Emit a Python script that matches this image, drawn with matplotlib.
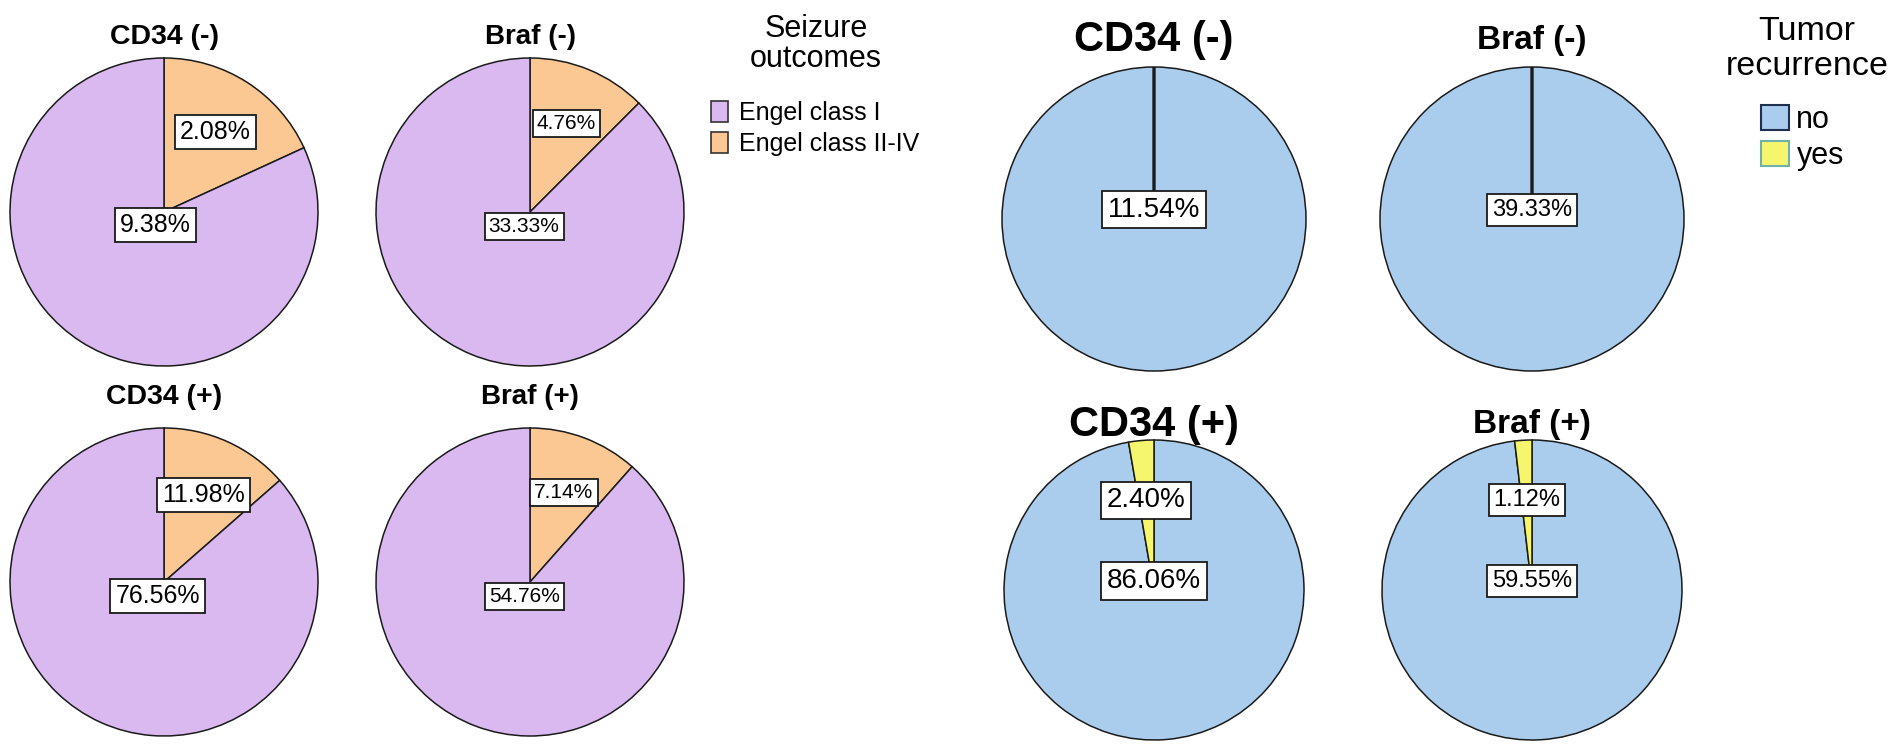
import matplotlib
matplotlib.use('Agg')
import matplotlib.pyplot as plt
from matplotlib.patches import Patch
import numpy as np

plt.rcParams['font.family'] = ['Liberation Sans', 'DejaVu Sans']

# ---------------- data ----------------
seizure_groups = ['CD34 (-)', 'Braf (-)', 'CD34 (+)', 'Braf (+)']
seizure_categories = ['Engel class I', 'Engel class II-IV']
seizure_class_I = [9.38, 33.33, 76.56, 54.76]
seizure_class_II_IV = [2.08, 4.76, 11.98, 7.14]

recurrence_groups = ['CD34 (-)', 'Braf (-)', 'CD34 (+)', 'Braf (+)']
recurrence_categories = ['no', 'yes']
recurrence_no = [11.54, 39.33, 86.06, 59.55]
recurrence_yes = [0.0, 0.0, 2.40, 1.12]

# ---------------- style ----------------
PURPLE = '#DAB9F1'
ORANGE = '#FBC893'
BLUE = '#ABCDED'
YELLOW = '#F6F56E'
EDGE = '#1a1a1a'

W, H = 1901, 750
fig = plt.figure(figsize=(W / 100, H / 100), dpi=100)
ax = fig.add_axes([0, 0, 1, 1])


def Y(y):
    return H - y


# layout: (center x, center y, radius, title size, label size, title y)
seizure_layout = [
    (164, 212, 154, 20.5, 18, 37),
    (530, 212, 154, 20, 15, 37),
    (164, 582, 154, 20.5, 18, 397),
    (530, 582, 154, 20, 15, 397),
]
recurrence_layout = [
    (1154, 219, 152, 30, 20, 40),
    (1532, 219, 152, 24, 17, 40),
    (1154, 590, 150, 30, 20, 425),
    (1532, 590, 150, 24, 17, 425),
]


def draw_pie(values, colors, layout, title, small_dist, big_mode):
    cx, cy, r, tsize, lsize, ty = layout
    total = sum(values)
    wedges, _ = ax.pie(values, colors=colors, startangle=90, counterclock=False,
                       center=(cx, Y(cy)), radius=r, normalize=True,
                       wedgeprops=dict(edgecolor=EDGE, linewidth=1.1))
    for w, v in zip(wedges, values):
        if v == 0:
            w.set_linewidth(2.4)
            continue
        frac = v / total
        mid = np.deg2rad((w.theta1 + w.theta2) / 2)
        if frac < 0.3:
            x = cx + small_dist * r * np.cos(mid)
            y = Y(cy) + small_dist * r * np.sin(mid)
        elif big_mode == 'radial':
            x = cx + 0.1 * r * np.cos(mid)
            y = Y(cy) + 0.1 * r * np.sin(mid)
        else:
            x = cx
            y = Y(cy) + 0.06 * r
        ax.text(x, y, f'{v:.2f}%', ha='center', va='center', fontsize=lsize,
                zorder=5,
                bbox=dict(boxstyle='square,pad=0.2', facecolor='white',
                          edgecolor=EDGE, linewidth=1.3))
    ax.text(cx, Y(ty), title, ha='center', va='center', fontsize=tsize,
            fontweight='bold', color='black')


for i, g in enumerate(seizure_groups):
    draw_pie([seizure_class_II_IV[i], seizure_class_I[i]], [ORANGE, PURPLE],
             seizure_layout[i], g, 0.62, 'radial')

for i, g in enumerate(recurrence_groups):
    draw_pie([recurrence_no[i], recurrence_yes[i]], [BLUE, YELLOW],
             recurrence_layout[i], g, 0.6, 'center')

ax.set_xlim(0, W)
ax.set_ylim(0, H)
ax.set_aspect('equal')
ax.axis('off')

# ---------------- legends ----------------
# Seizure outcomes
ax.text(816, Y(37), 'Seizure', ha='center', va='baseline', fontsize=22)
ax.text(816, Y(67), 'outcomes', ha='center', va='baseline', fontsize=22)
h1 = [Patch(facecolor=PURPLE, edgecolor='#333333', linewidth=1.2),
      Patch(facecolor=ORANGE, edgecolor='#333333', linewidth=1.2)]
leg1 = ax.legend(h1, seizure_categories,
                 loc='upper left', bbox_to_anchor=(711 / W, 1 - 101 / H),
                 bbox_transform=fig.transFigure, frameon=False,
                 fontsize=18, handlelength=0.68,
                 handleheight=0.92, handletextpad=0.45, labelspacing=0.26,
                 borderpad=0, borderaxespad=0)
ax.add_artist(leg1)

# Tumor recurrence
ax.text(1807, Y(40), 'Tumor', ha='center', va='baseline', fontsize=24.5)
ax.text(1807, Y(75), 'recurrence', ha='center', va='baseline', fontsize=24.5)
h2 = [Patch(facecolor=BLUE, edgecolor='#1f2f4f', linewidth=1.5),
      Patch(facecolor=YELLOW, edgecolor='#6fb0a8', linewidth=1.5)]
leg2 = ax.legend(h2, recurrence_categories,
                 loc='upper left', bbox_to_anchor=(1761 / W, 1 - 105 / H),
                 bbox_transform=fig.transFigure, frameon=False,
                 fontsize=22, handlelength=0.9,
                 handleheight=0.88, handletextpad=0.26, labelspacing=0.18,
                 borderpad=0, borderaxespad=0)

fig.savefig('out.png', dpi=100)
